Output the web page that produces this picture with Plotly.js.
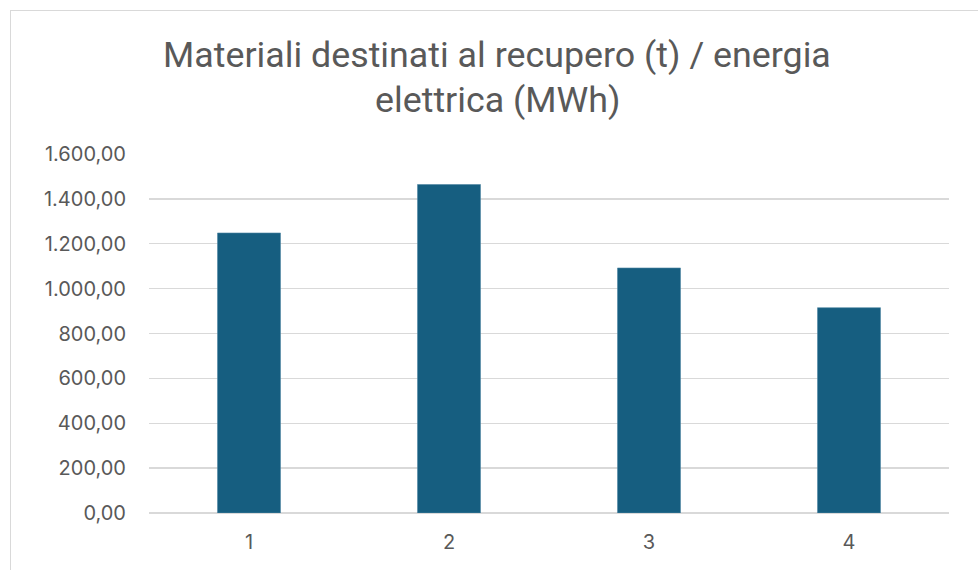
<!DOCTYPE html>
<html>
<head>
<meta charset="utf-8">
<script src="https://cdn.plot.ly/plotly-3.0.1.min.js"></script>
<style>
  html, body { margin: 0; padding: 0; background: #ffffff; }
  #wrap { position: relative; width: 978px; height: 570px; overflow: hidden; }
  #chart { position: absolute; left: 0; top: 0; width: 978px; height: 570px; }
  #frame { position: absolute; left: 10px; top: 10px; width: 980px; height: 600px;
           border: 1px solid #d9d9d9; box-sizing: border-box; pointer-events: none; }
</style>
</head>
<body>
<div id="wrap">
  <div id="chart"></div>
  <div id="frame"></div>
</div>
<script>
const categories = ["1", "2", "3", "4"];
const values = [1248, 1464, 1092, 915];
const titleLines = ["Materiali destinati al recupero (t) / energia", "elettrica (MWh)"];
const yTicks = [0, 200, 400, 600, 800, 1000, 1200, 1400, 1600];

const trace = {
  type: "bar",
  x: categories,
  y: values,
  marker: { color: "#165e80", line: { color: "#4f86a3", width: 0.6 } },
  hoverinfo: "x+y"
};

const titleFont = { family: "Roboto, sans-serif", size: 35.8, color: "#595959" };

const layout = {
  width: 978,
  height: 570,
  margin: { l: 149, r: 29, t: 154, b: 57 },
  paper_bgcolor: "rgba(0,0,0,0)",
  plot_bgcolor: "rgba(0,0,0,0)",
  separators: ",.",
  bargap: 0.685,
  showlegend: false,
  font: { family: "Inter, sans-serif", color: "#595959" },
  annotations: [
    { text: titleLines[0], xref: "paper", yref: "paper", x: 0.4355, y: 1.2758,
      xanchor: "center", yanchor: "middle", showarrow: false, font: titleFont },
    { text: titleLines[1], xref: "paper", yref: "paper", x: 0.4355, y: 1.1504,
      xanchor: "center", yanchor: "middle", showarrow: false, font: titleFont }
  ],
  xaxis: {
    type: "category",
    showgrid: false,
    showline: false,
    ticks: "",
    tickfont: { size: 20, color: "#595959" },
    ticklabelstandoff: 15,
    zeroline: false
  },
  yaxis: {
    range: [0, 1600],
    tickvals: yTicks,
    tickformat: ",.2f",
    showgrid: true,
    gridcolor: "#d9d9d9",
    gridwidth: 1.3,
    zeroline: true,
    zerolinecolor: "#d9d9d9",
    zerolinewidth: 1.3,
    showline: false,
    ticks: "",
    ticklabelstandoff: 22,
    tickfont: { size: 20, color: "#595959" }
  }
};

Plotly.newPlot("chart", [trace], layout, { displayModeBar: false, staticPlot: true });
</script>
</body>
</html>
